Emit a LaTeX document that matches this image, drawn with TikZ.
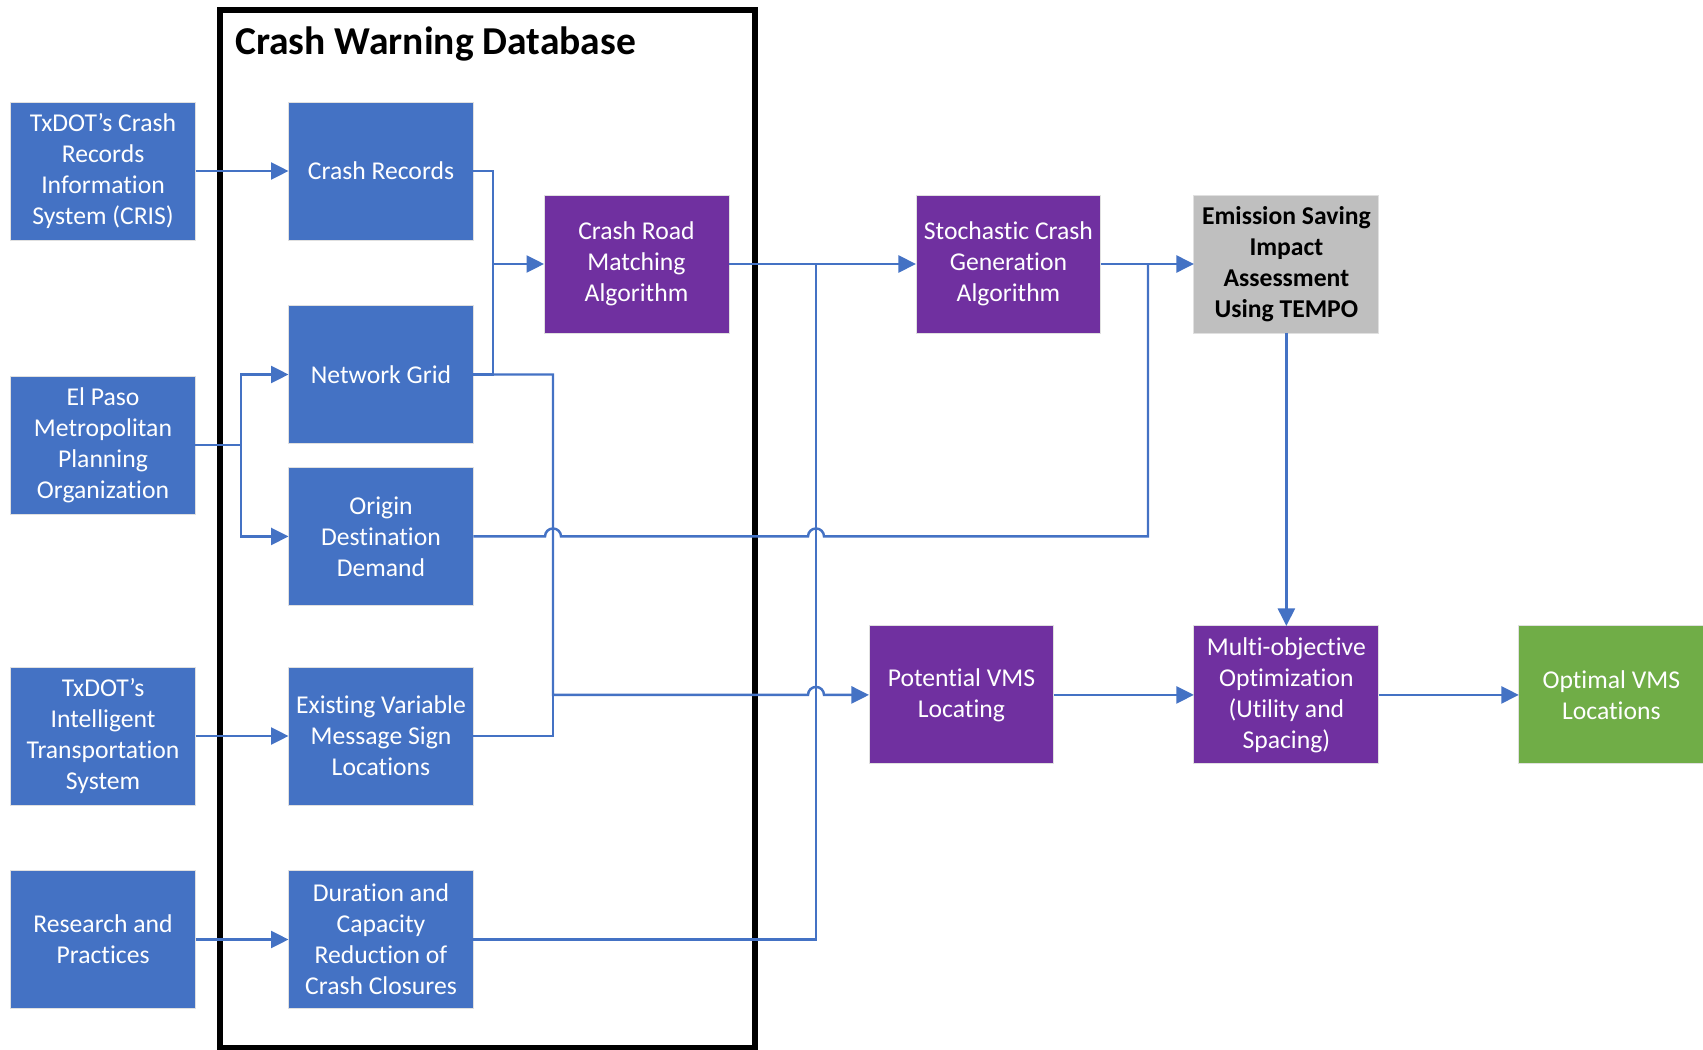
\documentclass[tikz,border=0pt]{standalone}
\usepackage{fontspec}
\setmainfont{Carlito}[Ligatures=NoCommon]
\usetikzlibrary{arrows.meta,positioning}
\definecolor{boxblue}{HTML}{4472C4}
\definecolor{boxpurple}{HTML}{7030A0}
\definecolor{boxgray}{HTML}{BFBFBF}
\definecolor{boxgreen}{HTML}{70AD47}
\definecolor{linkblue}{HTML}{4472C4}

\begin{document}
\begin{tikzpicture}[x=0.02cm,y=-0.02cm,
  font=\fontsize{14.6}{17.6}\selectfont,
  f/.style={draw=black!12,line width=0.5pt,minimum width=3.7cm,minimum height=2.76cm,
            inner sep=0pt,outer sep=0pt,align=center,text=white},
  link/.style={draw=linkblue,line width=1.4pt},
  arr/.style={link,-{Triangle[length=0.35cm,width=0.34cm]}}]
\useasboundingbox (0,0) rectangle (1703,1050);
% database frame
\draw[line width=0.12cm] (220,10) rectangle (755,1048);
\node[anchor=west,inner sep=0pt,font=\fontsize{22.5}{27}\selectfont\bfseries] (dbtitle) at (235,44) {Crash Warning Database};
% database contents
\node[f,fill=boxblue] (rec) at (381,171) {Crash Records};
\node[f,fill=boxblue] (grid) at (381,374.5) {Network Grid};
\node[f,fill=boxblue,below=0.48cm of grid] (od) {Origin\\Destination\\Demand};
\node[f,fill=boxblue] (exist) at (381,736) {Existing Variable\\Message Sign\\Locations};
\node[f,fill=boxblue] (dur) at (381,939.5) {Duration and\\Capacity\\Reduction of\\Crash Closures};
% sources
\node[f,fill=boxblue,left=1.86cm of rec] (cris) {TxDOT’s Crash\\Records\\Information\\System (CRIS)};
\node[f,fill=boxblue] (paso) at (103,445) {El Paso\\Metropolitan\\Planning\\Organization};
\node[f,fill=boxblue,left=1.86cm of exist] (its) {TxDOT’s\\Intelligent\\Transportation\\System};
\node[f,fill=boxblue,left=1.86cm of dur] (res) {Research and\\Practices};
% processing
\node[f,fill=boxpurple] (match) at (636.5,264) {Crash Road\\Matching\\Algorithm};
\node[f,fill=boxpurple,right=3.74cm of match] (stoch) {Stochastic Crash\\Generation\\Algorithm};
\node[f,fill=boxgray,text=black,right=1.86cm of stoch,
      font=\fontsize{14.6}{17.6}\selectfont\bfseries] (emis) {Emission Saving\\Impact\\Assessment\\Using TEMPO};
\node[f,fill=boxpurple,below=5.86cm of emis] (multi) {Multi-objective\\Optimization\\(Utility and\\Spacing)};
\node[f,fill=boxpurple,left=2.8cm of multi] (pot) {Potential VMS\\Locating};
\node[f,fill=boxgreen,right=2.8cm of multi] (opt) {Optimal VMS\\Locations};
% bus lines
\coordinate (busA) at (493,0);
\coordinate (busB) at (553,0);
\coordinate (busC) at (816,0);
\coordinate (busD) at (1148,0);
\coordinate (busE) at (241,0);
% connectors
\draw[arr] (cris) -- (rec);
\draw[arr] (paso.east) -| (busE |- grid.west) -- (grid.west);
\draw[arr] (paso.east) -| (busE |- od.west) -- (od.west);
\draw[arr] (its) -- (exist);
\draw[arr] (res) -- (dur);
\draw[arr] (rec.east) -| (busA |- match.west) -- (match.west);
\draw[link] (grid.east) -| (busA |- match.west);
\draw[arr] (grid.east) -| (busB |- pot.west)
  -- ([xshift=-0.16cm]busC |- pot.west) arc[start angle=180,end angle=0,radius=0.16cm] -- (pot.west);
\draw[link] (exist.east) -| (busB |- pot.west);
\draw[arr] (match) -- (stoch);
\draw[link] (dur.east) -| (busC |- stoch.west);
\draw[link] (od.east)
  -- ([xshift=-0.16cm]busB |- od.east) arc[start angle=180,end angle=0,radius=0.16cm]
  -- ([xshift=-0.16cm]busC |- od.east) arc[start angle=180,end angle=0,radius=0.16cm]
  -| (busD |- emis.west);
\draw[arr] (stoch) -- (emis);
\draw[arr] (emis) -- (multi);
\draw[arr] (pot) -- (multi);
\draw[arr] (multi) -- (opt);
\end{tikzpicture}
\end{document}
